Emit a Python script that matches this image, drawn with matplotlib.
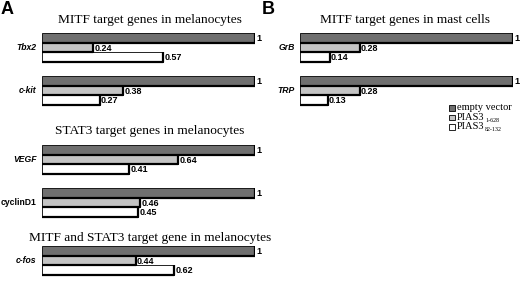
import matplotlib
matplotlib.use("Agg")
import matplotlib.pyplot as plt
from matplotlib.patches import Rectangle

# values (relative expression)
genes_a = ["Tbx2", "c-kit", "VEGF", "cyclinD1", "c-fos"]
italic_a = [True, True, True, False, True]
empty_a = [1, 1, 1, 1, 1]
pias_628_a = [0.24, 0.38, 0.64, 0.46, 0.44]
pias_132_a = [0.57, 0.27, 0.41, 0.45, 0.62]

genes_b = ["GrB", "TRP"]
empty_b = [1, 1]
pias_628_b = [0.28, 0.28]
pias_132_b = [0.14, 0.13]

titles_a = ["MITF target genes in melanocytes",
            "STAT3 target genes in melanocytes",
            "MITF and STAT3 target gene in melanocytes"]
title_b = "MITF target genes in mast cells"
legend_main = ["empty vector", "PIAS3", "PIAS3"]
legend_sub = ["", "1-628", "82-132"]
colors = ["#6f6f6f", "#c4c4c4", "#ffffff"]

W, H = 520, 287
fig = plt.figure(figsize=(W / 100, H / 100), dpi=100)

# layout in pixels
group_top_a = [33, 76, 145, 188, 246]
group_top_b = [33, 76]
title_y_a = [20, 131, 238]
bar_h = 9.6


def panel(x0, x1, genes, italic, series, tops):
    ax = fig.add_axes([x0 / W, 0, (x1 - x0) / W, 1])
    ax.set_xlim(0, 1)
    ax.set_ylim(H, 0)
    ax.axis("off")
    for i, g in enumerate(genes):
        for k, vals in enumerate(series):
            y = tops[i] + k * bar_h + bar_h / 2
            v = vals[i]
            ax.barh(y, v, height=bar_h, left=0, color=colors[k],
                    edgecolor="black", linewidth=0.6)
            # heavy right/bottom edge (shadow look)
            ax.plot([0, v, v], [y + bar_h / 2, y + bar_h / 2, y - bar_h / 2],
                    color="black", lw=1.6, solid_capstyle="butt")
            lab = "1" if v == 1 else f"{v:.2f}"
            ax.text(v + 0.006, y + 0.8, lab, fontsize=6.5, fontweight="bold",
                    family="Liberation Sans", va="center", ha="left")
        ax.text(-0.025, tops[i] + bar_h * 1.5, g, fontsize=6.2, fontweight="bold",
                style="italic" if italic[i] else "normal",
                family="Liberation Sans", va="center", ha="right")
    return ax


ax_a = panel(42, 255, genes_a, italic_a, [empty_a, pias_628_a, pias_132_a], group_top_a)
ax_b = panel(300, 513, genes_b, [True, True], [empty_b, pias_628_b, pias_132_b], group_top_b)

for t, y in zip(titles_a, title_y_a):
    fig.text(150 / W, 1 - y / H, t, fontsize=9.6, family="Liberation Serif",
             ha="center", va="center")
fig.text(405 / W, 1 - 20 / H, title_b, fontsize=9.6, family="Liberation Serif",
         ha="center", va="center")

fig.text(1 / W, 1 - 9 / H, "A", fontsize=13, fontweight="bold",
         family="Liberation Sans", va="center", ha="left")
fig.text(262 / W, 1 - 9 / H, "B", fontsize=13, fontweight="bold",
         family="Liberation Sans", va="center", ha="left")

# legend drawn by hand for tight spacing and small subscripts
fig.canvas.draw()
renderer = fig.canvas.get_renderer()
for k, (main, sub) in enumerate(zip(legend_main, legend_sub)):
    yc = 108 + k * 9.5
    fig.patches.append(Rectangle((449 / W, 1 - (yc + 2.8) / H), 5.5 / W, 5.5 / H,
                                 transform=fig.transFigure, facecolor=colors[k],
                                 edgecolor="black", linewidth=0.6))
    t = fig.text(457 / W, 1 - yc / H, main, fontsize=7.5, family="Liberation Serif",
                 va="center", ha="left")
    if sub:
        bb = t.get_window_extent(renderer)
        fig.text((bb.x1 + 0.5) / W, (bb.y0 - 1.0) / H, sub, fontsize=4.3,
                 family="Liberation Serif", va="bottom", ha="left")

fig.savefig("out.png", dpi=100)
